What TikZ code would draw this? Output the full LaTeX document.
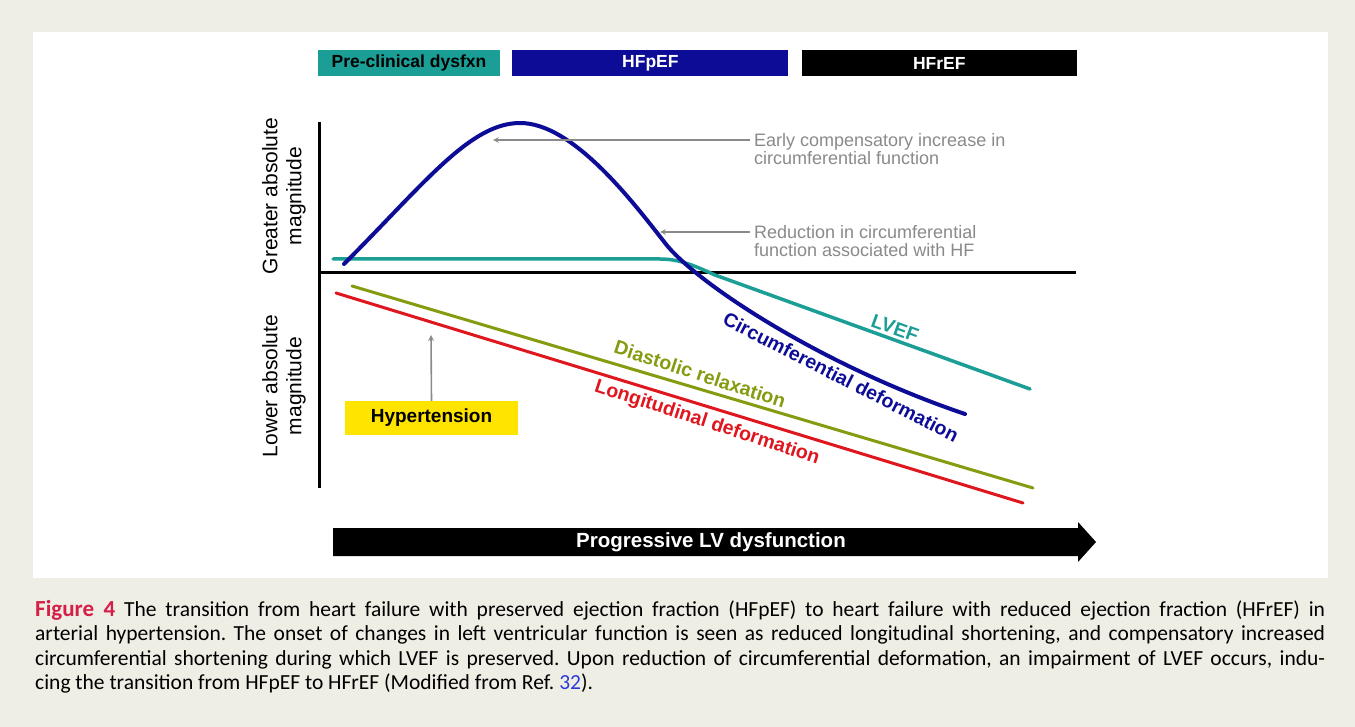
\documentclass[tikz,border=0pt]{standalone}
\usepackage{fontspec}
\setmainfont{Liberation Sans}
\newfontfamily\capfont{Carlito}
\usepackage{xcolor}
\usetikzlibrary{arrows, positioning, calc}

\definecolor{bgbeige}{HTML}{EFEEE4}
\definecolor{tealc}{HTML}{1A9E96}
\definecolor{navyc}{HTML}{0C0C96}
\definecolor{olivec}{HTML}{849C10}
\definecolor{redc}{HTML}{E0161E}
\definecolor{yellowc}{HTML}{FFE400}
\definecolor{notegray}{HTML}{8A8A8A}
\definecolor{figred}{HTML}{D41F48}
\definecolor{refblue}{HTML}{2A3BD9}

\tikzstyle{phase} = [rectangle, minimum height=26pt, inner sep=0pt, text centered, font=\fontsize{17.5}{20}\selectfont\bfseries]
\tikzstyle{note} = [anchor=west, align=left, text=notegray, inner sep=4pt, font=\fontsize{18}{18}\selectfont]
\tikzstyle{pointer} = [notegray, line width=1.6pt, ->, >=stealth]
\tikzstyle{curve} = [line width=3pt, line cap=round]
\tikzstyle{curvelabel} = [inner sep=0pt, font=\fontsize{19.5}{20}\selectfont\bfseries]
\tikzstyle{axislabel} = [rotate=90, align=center, font=\fontsize{21}{24}\selectfont]

\begin{document}
\frenchspacing
\begin{tikzpicture}[x=1pt, y=-1pt]

% Background
\fill[bgbeige] (0,0) rectangle (1355,727);
\useasboundingbox (0,0) rectangle (1355,727);
\fill[white] (33,32) rectangle (1328,578);

% Phases
\node (preclin) [phase, fill=tealc, text=black, minimum width=182pt] at (409,63) {Pre-clinical dysfxn};
\node (hfpef) [phase, fill=navyc, text=white, minimum width=276pt, right=12pt of preclin] {HFpEF};
\node (hfref) [phase, fill=black, text=white, minimum width=275pt, right=13pt of hfpef] {HFrEF};

% Axes
\draw[line width=3pt] (319,122) -- (319,488);
\draw[line width=3pt] (319,273) -- (1076,273);
\node (greater) [axislabel] at (284,196) {Greater absolute\\magnitude};
\node (lower) [axislabel] at (284,386) {Lower absolute\\magnitude};

% Curves
\draw[curve, olivec] (352,286) -- (1033,488);
\draw[curve, redc] (336,293) -- (1023,503);
\draw[curve, tealc, line width=3.5pt] (333,259) -- (660,259) .. controls (680,259) and (695,266) .. (715,275) -- (1030,389);
\draw[curve, navyc, line width=4pt] (344,264) .. controls (424,184) and (470,123) .. (520,123)
  .. controls (572,123) and (630,198) .. (665,243)
  .. controls (695,282) and (820,365) .. (965,414);

% Curve labels
\node (lvef) [curvelabel, text=tealc, rotate=-20] at (895,328) {LVEF};
\node (circ) [curvelabel, text=navyc, rotate=-27] at (841,377) {Circumferential deformation};
\node (diast) [curvelabel, text=olivec, rotate=-18] at (700,374) {Diastolic relaxation};
\node (longit) [curvelabel, text=redc, rotate=-18] at (707,423) {Longitudinal deformation};

% Notes
\node (early) [note] at (750,149) {Early compensatory increase in\\circumferential function};
\node (reduce) [note] at (750,241) {Reduction in circumferential\\function associated with HF};
\coordinate (peakpt) at (493,140);
\coordinate (dippt) at (660,232);
\draw[pointer] (early.west |- peakpt) -- (peakpt);
\draw[pointer] (reduce.west |- dippt) -- (dippt);

% Hypertension
\node (hyp) [rectangle, fill=yellowc, minimum width=173pt, minimum height=34pt, font=\fontsize{19}{20}\selectfont\bfseries] at (431.5,418) {Hypertension};
\coordinate (hyptip) at (431,335);
\draw[pointer] (hyp.north) -- (hyptip);

% Progress arrow
\fill (333,528) -- (1078,528) -- (1078,522) -- (1096,542) -- (1078,562) -- (1078,556) -- (333,556) -- cycle;
\node (progress) [text=white, font=\fontsize{20.5}{22}\selectfont\bfseries] at (711,542) {Progressive LV dysfunction};

% Caption
\node (caption) [anchor=north west, text width=1290pt, inner sep=0pt, align=justify,
  font=\capfont\fontsize{21.5}{24.5}\selectfont] at (35,600)
  {{\color{figred}\bfseries\fontsize{23}{24.5}\selectfont Figure 4}\hspace{9pt}The transition from heart failure with preserved ejection fraction (HFpEF) to heart failure with reduced ejection fraction (HFrEF) in\linebreak
  arterial hypertension. The onset of changes in left ventricular function is seen as reduced longitudinal shortening, and compensatory increased\linebreak
  circumferential shortening during which LVEF is preserved. Upon reduction of circumferential deformation, an impairment of LVEF occurs, indu-\linebreak
  cing the transition from HFpEF to HFrEF (Modified from Ref.~{\color{refblue}32}).};

\end{tikzpicture}
\end{document}
